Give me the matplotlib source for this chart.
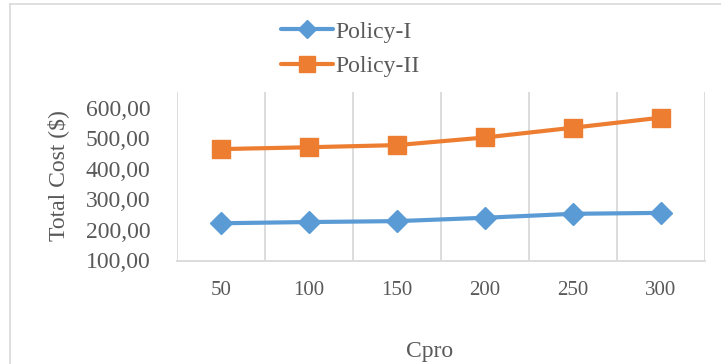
import matplotlib
matplotlib.use("Agg")
import matplotlib.pyplot as plt
from matplotlib.lines import Line2D

categories = ["50", "100", "150", "200", "250", "300"]
policy_1 = [222, 226, 229, 240, 253, 256]
policy_2 = [465, 471, 478, 503, 535, 568]
y_ticks = [100, 200, 300, 400, 500, 600]

W, H = 721, 364
fig = plt.figure(figsize=(W / 100, H / 100), dpi=100)
plt.rcParams["font.family"] = ["Liberation Serif", "DejaVu Serif"]

text_color = "#595959"
grid_color = "#D9D9D9"
blue = "#5B9BD5"
orange = "#ED7D31"

# chart border
fig.add_artist(Line2D([10 / W, 10 / W], [0, 1 - 4 / H], transform=fig.transFigure,
                      color=grid_color, lw=1.2))
fig.add_artist(Line2D([10 / W, 1], [1 - 4 / H, 1 - 4 / H], transform=fig.transFigure,
                      color=grid_color, lw=1.2))

left, right = 177 / W, 705 / W
bottom, top = 1 - 260.5 / H, 1 - 92 / H
ax = fig.add_axes([left, bottom, right - left, top - bottom])

x = list(range(len(categories)))
ax.plot(x, policy_1, color=blue, lw=3, marker="D", markersize=11,
        markeredgecolor=blue, label="Policy-I", solid_capstyle="round")
ax.plot(x, policy_2, color=orange, lw=3, marker="s", markersize=13,
        markeredgecolor=orange, label="Policy-II", solid_capstyle="round")

ax.set_xlim(-0.5, len(categories) - 0.5)
ax.set_ylim(100, 652)
ax.set_xticks(x)
ax.set_xticklabels(categories, fontsize=15, color=text_color)
ax.set_yticks(y_ticks)
ax.set_yticklabels([f"{v},00" for v in y_ticks], fontsize=17, color=text_color)

# vertical gridlines at category boundaries
for b in [i - 0.5 for i in range(len(categories) + 1)]:
    ax.axvline(b, color=grid_color, lw=1.3, zorder=0)

for s in ["top", "right", "left"]:
    ax.spines[s].set_visible(False)
ax.spines["bottom"].set_color(grid_color)
ax.spines["bottom"].set_linewidth(1.3)
ax.tick_params(axis="both", length=0)
ax.tick_params(axis="x", pad=15)
ax.tick_params(axis="y", pad=19)

fig.text(58 / W, 1 - 176 / H, "Total Cost ($)", rotation=90, ha="center", va="center",
         fontsize=17, color=text_color)
fig.text(430 / W, 1 - 351 / H, "Cpro", ha="center", va="center",
         fontsize=17, color=text_color)

handles, labels = ax.get_legend_handles_labels()
fig.legend(handles, labels, loc="center left", bbox_to_anchor=(272 / W, 1 - 49 / H),
           frameon=False, fontsize=17, labelcolor=text_color, handlelength=2.2,
           handletextpad=0.1, labelspacing=0.55, borderaxespad=0, markerscale=0.85)

fig.savefig("out.png", dpi=100)
